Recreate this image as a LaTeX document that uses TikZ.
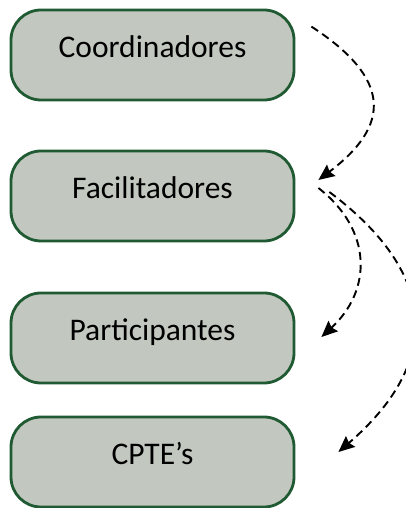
\documentclass[tikz,border=0pt]{standalone}
\usepackage{fontspec}
\setmainfont{Carlito}
\usetikzlibrary{positioning}
\usetikzlibrary{arrows.meta}
\definecolor{rolborde}{HTML}{1F5A33}
\definecolor{rolfondo}{HTML}{C2C8BF}
\tikzset{rol/.style={draw=rolborde, fill=rolfondo, line width=2.8pt, rounded corners=30pt,
    minimum width=283pt, minimum height=90pt, inner sep=0pt,
    text height=20pt, text depth=14pt, font=\fontsize{31.5}{36}\selectfont}}
\tikzset{flecha/.style={line width=1.9pt, dash pattern=on 8pt off 5pt, -{Stealth[length=16pt,width=14pt,inset=2pt]}}}

\begin{document}
\begin{tikzpicture}[node distance = 141pt and 0pt, on grid]
        \useasboundingbox (0,0) rectangle (406pt,508pt);
        \clip (0,0) rectangle (406pt,508pt);
        \node[rol] (Coord) at (152.5pt, 453pt) {Coordinadores};
        \node[rol, below=141pt of Coord] (Facil) {Facilitadores};
        \node[rol, below=142pt of Facil] (Part) {Participantes};
        \node[rol, below=124pt of Part] (CPTE) {CPTE’s};
        \draw[flecha] ([shift={(16pt,-18pt)}]Coord.north east)
            .. controls +(80pt,-52pt) and +(73pt,55pt) .. ([shift={(23pt,16pt)}]Facil.east);
        \draw[flecha] ([shift={(23pt,8pt)}]Facil.east)
            .. controls +(54pt,-42pt) and +(51pt,47pt) .. ([shift={(26pt,1pt)}]Part.east);
        \draw[flecha] ([shift={(34pt,4pt)}]Facil.east)
            .. controls +(112pt,-84pt) and +(102pt,88pt) .. ([shift={(43pt,10pt)}]CPTE.east);
    \end{tikzpicture}
\end{document}
